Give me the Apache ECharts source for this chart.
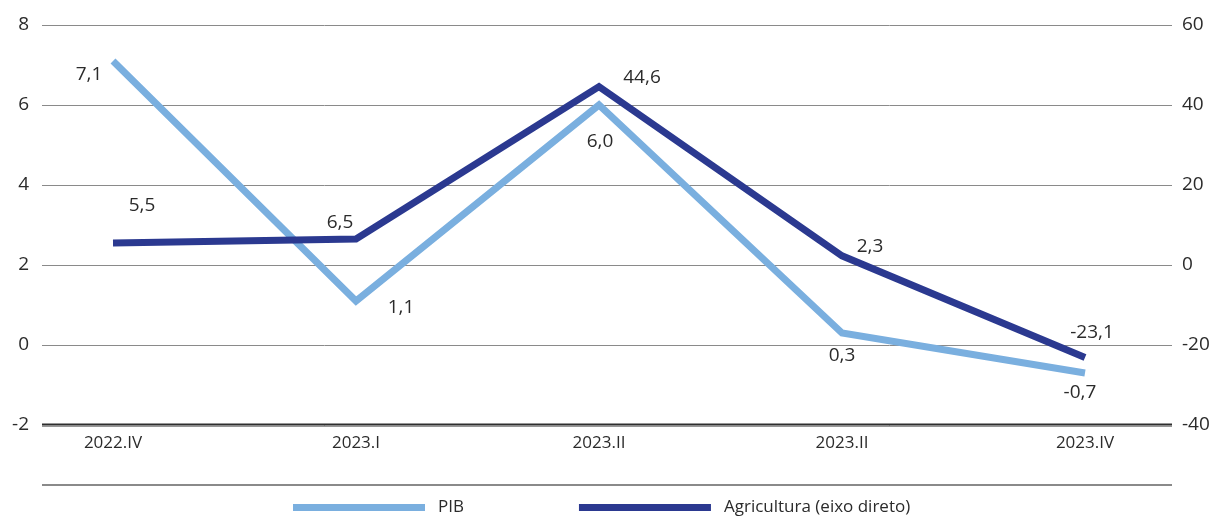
<!DOCTYPE html>
<html>
<head>
<meta charset="utf-8">
<script src="https://cdn.jsdelivr.net/npm/echarts@6/dist/echarts.min.js"></script>
<style>
  html, body { margin: 0; padding: 0; background: #ffffff; }
  #chart { width: 1215px; height: 527px; }
</style>
</head>
<body>
<div id="chart"></div>
<script>
// Quarters on the horizontal axis
const categories = ['2022.IV', '2023.I', '2023.II', '2023.II', '2023.IV'];
// GDP growth (left axis, %)
const pibValues = [7.1, 1.1, 6.0, 0.3, -0.7];
// Agriculture growth (right axis, %)
const agriValues = [5.5, 6.5, 44.6, 2.3, -23.1];
// Axis ranges
const leftAxis = { min: -2, max: 8, interval: 2 };
const rightAxis = { min: -40, max: 60, interval: 20 };

// Label placement around each point (dx, dy from the point)
const pibLabelOffsets = [[-24, 14], [45, 7], [1, 37], [0, 23], [-5, 20]];
const agriLabelOffsets = [[29, -37], [-16, -16], [43, -9], [28, -9], [7, -25]];

const FONT = '"Open Sans", "DejaVu Sans", sans-serif';
const TEXT = '#2b2b2b';
const PIB_COLOR = '#7aafdf';
const AGRI_COLOR = '#2b3990';

const fmt = v => v.toFixed(1).replace('.', ',');

function withLabels(values, offsets) {
  return values.map((v, i) => ({
    value: v,
    label: { offset: offsets[i] }
  }));
}

const chart = echarts.init(document.getElementById('chart'), null, { renderer: 'canvas' });

const plotTop = 25, plotBottom = 102;

chart.setOption({
  animation: false,
  backgroundColor: '#ffffff',
  textStyle: { fontFamily: FONT },
  grid: [
    // frame grid: gridlines and both value axes
    { left: 42, right: 43, top: plotTop, bottom: plotBottom },
    // data grid: points inset from the frame
    { left: 113, right: 130, top: plotTop, bottom: plotBottom }
  ],
  xAxis: [
    {
      type: 'category', gridIndex: 0, data: categories,
      axisLine: { show: false }, axisTick: { show: false }, axisLabel: { show: false }
    },
    {
      type: 'category', gridIndex: 1, data: categories, boundaryGap: false,
      axisLine: { show: false }, axisTick: { show: false },
      axisLabel: { color: TEXT, fontFamily: FONT, fontSize: 17, margin: 10 }
    }
  ],
  yAxis: [
    {
      type: 'value', gridIndex: 0, position: 'left',
      min: leftAxis.min, max: leftAxis.max, interval: leftAxis.interval,
      axisLine: { show: false }, axisTick: { show: false },
      axisLabel: { color: TEXT, fontFamily: FONT, fontSize: 19, margin: 13 },
      splitLine: { show: true, lineStyle: { color: '#8a8a8a', width: 1 } }
    },
    {
      type: 'value', gridIndex: 0, position: 'right',
      min: rightAxis.min, max: rightAxis.max, interval: rightAxis.interval,
      axisLine: { show: false }, axisTick: { show: false },
      axisLabel: { color: TEXT, fontFamily: FONT, fontSize: 19, margin: 10 },
      splitLine: { show: false }
    },
    {
      type: 'value', gridIndex: 1,
      min: leftAxis.min, max: leftAxis.max, interval: leftAxis.interval,
      show: false
    },
    {
      type: 'value', gridIndex: 1,
      min: rightAxis.min, max: rightAxis.max, interval: rightAxis.interval,
      show: false
    }
  ],
  legend: {
    left: 293, top: 499, padding: 0,
    itemWidth: 132, itemHeight: 7, itemGap: 115,
    icon: 'rect',
    textStyle: { color: TEXT, fontFamily: FONT, fontSize: 17, padding: [0, 0, 0, 8] },
    data: ['PIB', 'Agricultura (eixo direto)']
  },
  graphic: [
    // bottom rule under the category labels
    { type: 'line', shape: { x1: 42, y1: 485, x2: 1172, y2: 485 },
      style: { stroke: '#8a8a8a', lineWidth: 2 } },
    // base line of the plot area
    { type: 'line', shape: { x1: 42, y1: 425, x2: 1172, y2: 425 },
      style: { stroke: '#2e2e2e', lineWidth: 3 } }
  ],
  series: [
    {
      name: 'PIB', type: 'line', xAxisIndex: 1, yAxisIndex: 2,
      data: withLabels(pibValues, pibLabelOffsets),
      showSymbol: true, symbol: 'circle', symbolSize: 0,
      itemStyle: { color: PIB_COLOR },
      lineStyle: { color: PIB_COLOR, width: 7, join: 'miter', cap: 'butt' },
      label: {
        show: true, position: 'inside', color: TEXT, fontFamily: FONT, fontSize: 19,
        formatter: p => fmt(p.value)
      },
      z: 2
    },
    {
      name: 'Agricultura (eixo direto)', type: 'line', xAxisIndex: 1, yAxisIndex: 3,
      data: withLabels(agriValues, agriLabelOffsets),
      showSymbol: true, symbol: 'circle', symbolSize: 0,
      itemStyle: { color: AGRI_COLOR },
      lineStyle: { color: AGRI_COLOR, width: 7, join: 'miter', cap: 'butt' },
      label: {
        show: true, position: 'inside', color: TEXT, fontFamily: FONT, fontSize: 19,
        formatter: p => fmt(p.value)
      },
      z: 3
    }
  ]
});
</script>
</body>
</html>
